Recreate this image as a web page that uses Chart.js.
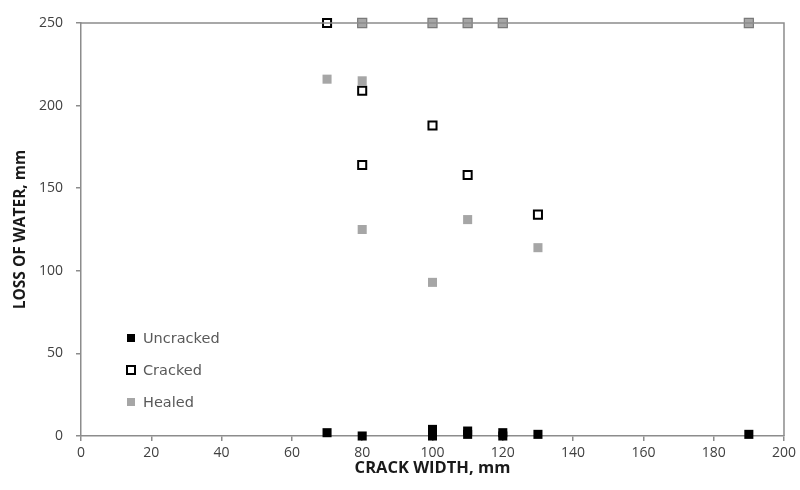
<!DOCTYPE html>
<html>
<head>
<meta charset="utf-8">
<script src="https://cdn.jsdelivr.net/npm/chart.js@4/dist/chart.umd.min.js"></script>
<style>
  html, body { margin:0; padding:0; background:#fff; }
  #wrap { width:800px; height:490px; position:relative; }
</style>
</head>
<body>
<div id="wrap"><canvas id="chart"></canvas></div>
<script>
// values
const uncrackedX = [70, 80, 100, 100, 100, 110, 110, 120, 120, 130, 190];
const uncrackedY = [2, 0, 0, 2, 4, 1, 3, 0, 2, 1, 1];
const crackedX   = [70, 80, 80, 100, 110, 130];
const crackedY   = [250, 209, 164, 188, 158, 134];
const healedX    = [70, 80, 80, 100, 110, 130, 80, 100, 110, 120, 190];
const healedY    = [216, 215, 125, 93, 131, 114, 250, 250, 250, 250, 250];
const xTicks = [0, 20, 40, 60, 80, 100, 120, 140, 160, 180, 200];
const yTicks = [0, 50, 100, 150, 200, 250];

const pts = (xs, ys) => xs.map((x, i) => ({ x, y: ys[i] }));
const FONT = '"Open Sans", "Liberation Sans", sans-serif';
const AXIS = '#8c8c8c';

// draws the box round the plot and the legend inside it
const frame = {
  id: 'frame',
  afterDraw(chart) {
    const { ctx, chartArea: a } = chart;
    ctx.save();
    ctx.strokeStyle = AXIS;
    ctx.lineWidth = 1.5;
    ctx.beginPath();
    ctx.moveTo(a.left, a.top); ctx.lineTo(a.right, a.top); ctx.lineTo(a.right, a.bottom);
    ctx.stroke();
    chart.data.datasets.forEach((ds, i) => {
      const y = 338 + i * 32;
      ctx.fillStyle = ds.legendFill;
      ctx.strokeStyle = ds.legendStroke;
      ctx.lineWidth = 2;
      if (ds.legendFill === '#fff') {
        ctx.fillRect(127, y - 4, 8, 8);
        ctx.strokeRect(127, y - 4, 8, 8);
      } else {
        ctx.fillRect(127, y - 4, 8, 8);
      }
      ctx.fillStyle = '#595959';
      ctx.font = '14.5px "DejaVu Sans", sans-serif';
      ctx.textBaseline = 'middle';
      ctx.fillText(ds.label, 143, y + 1);
    });
    ctx.restore();
  }
};

new Chart(document.getElementById('chart'), {
  type: 'scatter',
  data: {
    datasets: [
      { label: 'Uncracked', data: pts(uncrackedX, uncrackedY),
        pointStyle: 'rect', pointRadius: 6.4, backgroundColor: '#000', borderColor: '#000', borderWidth: 0,
        legendFill: '#000', legendStroke: '#000', clip: false },
      { label: 'Cracked', data: pts(crackedX, crackedY),
        pointStyle: 'rect', pointRadius: 5.7, backgroundColor: '#fff', borderColor: '#000', borderWidth: 2,
        legendFill: '#fff', legendStroke: '#000', clip: false },
      { label: 'Healed', data: pts(healedX, healedY),
        pointStyle: 'rect', pointRadius: 6.4, backgroundColor: '#a6a6a6',
        borderColor: c => (c.raw && c.raw.y === 250 ? '#7a7a7a' : '#a6a6a6'),
        borderWidth: c => (c.raw && c.raw.y === 250 ? 1.2 : 0),
        legendFill: '#a6a6a6', legendStroke: '#a6a6a6', clip: false }
    ]
  },
  options: {
    responsive: true,
    maintainAspectRatio: false,
    animation: false,
    layout: { padding: { top: 23, right: 15 } },
    plugins: { legend: { display: false }, tooltip: { enabled: false } },
    scales: {
      x: {
        type: 'linear', min: 0, max: 200,
        afterBuildTicks: s => { s.ticks = xTicks.map(v => ({ value: v })); },
        afterFit: s => { s.height = 54; },
        grid: { drawOnChartArea: false, tickLength: 5, color: AXIS, lineWidth: 1.5 },
        border: { color: AXIS, width: 1.5 },
        ticks: { color: '#404040', font: { family: FONT, size: 14 }, padding: 4, maxRotation: 0 },
        title: { display: true, text: 'CRACK WIDTH, mm', color: '#1a1a1a',
                 font: { family: FONT, size: 16.5, weight: 'bold' }, padding: { top: 0, bottom: 12 } }
      },
      y: {
        type: 'linear', min: 0, max: 250,
        afterBuildTicks: s => { s.ticks = yTicks.map(v => ({ value: v })); },
        afterFit: s => { s.width = 81; },
        grid: { drawOnChartArea: false, tickLength: 5, color: AXIS, lineWidth: 1.5 },
        border: { color: AXIS, width: 1.5 },
        ticks: { color: '#404040', font: { family: FONT, size: 14 }, padding: 13 },
        title: { display: true, text: 'LOSS OF WATER, mm', color: '#1a1a1a',
                 font: { family: FONT, size: 15.5, weight: 'bold' }, padding: { top: 11, bottom: 0 } }
      }
    }
  },
  plugins: [frame]
});
</script>
</body>
</html>
